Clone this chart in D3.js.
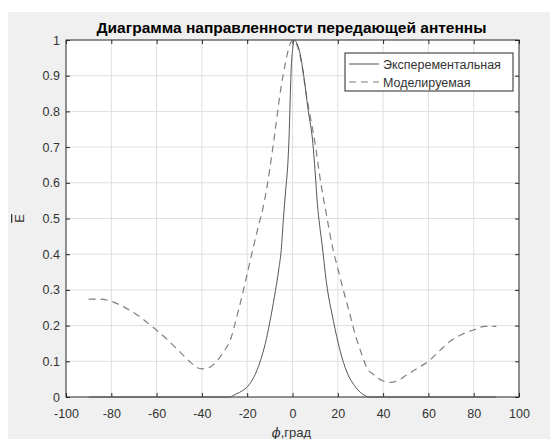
<!DOCTYPE html>
<html>
<head>
<meta charset="utf-8">
<script src="https://cdn.jsdelivr.net/npm/d3@7"></script>
<style>
  body { margin: 0; background: #fff; }
  svg { display: block; font-family: "Liberation Sans", Arial, sans-serif; }
</style>
</head>
<body>
<svg></svg>
<script>
const width = 550;
const height = 439;
const margin = { top: 40, right: 31, bottom: 42, left: 66 };

// angles in degrees, normalized field
const expAngles = [-90, -28, -25, -22, -20, -18, -16, -14, -12, -10, -8, -6, -5, -4, -3, -2, -1.4, -1, -0.5, 0, 0.7, 2, 3.3, 4.8, 7, 9, 10, 11, 12, 13, 15, 18, 21, 24, 27, 29, 31, 34, 90];
const expValues = [0, 0, 0.008, 0.018, 0.028, 0.045, 0.07, 0.105, 0.15, 0.21, 0.28, 0.36, 0.41, 0.5, 0.58, 0.66, 0.75, 0.84, 0.93, 0.97, 1.0, 0.99, 0.963, 0.907, 0.8, 0.71, 0.63, 0.54, 0.48, 0.43, 0.32, 0.215, 0.13, 0.07, 0.035, 0.019, 0.008, 0, 0];

const modelAngles = [-90, -85, -80, -75, -70, -65, -60, -55, -50, -45, -42, -40, -37, -35, -32, -30, -27, -25, -22, -20, -18, -15, -13, -10, -8, -5, -3, -1, 0, 1, 2, 4, 6, 8, 10, 12, 15, 18, 20, 22, 25, 28, 30, 33, 36, 40, 43, 46, 50, 55, 60, 65, 70, 75, 80, 85, 90];
const modelValues = [0.274, 0.274, 0.268, 0.254, 0.236, 0.213, 0.187, 0.159, 0.128, 0.097, 0.082, 0.079, 0.082, 0.09, 0.112, 0.13, 0.168, 0.215, 0.29, 0.345, 0.4, 0.48, 0.53, 0.64, 0.73, 0.87, 0.94, 0.99, 1.0, 0.995, 0.985, 0.935, 0.85, 0.78, 0.71, 0.62, 0.51, 0.41, 0.36, 0.31, 0.24, 0.168, 0.13, 0.08, 0.062, 0.045, 0.041, 0.044, 0.06, 0.08, 0.1, 0.13, 0.158, 0.176, 0.188, 0.198, 0.198];

const xTicks = [-100, -80, -60, -40, -20, 0, 20, 40, 60, 80, 100];
const yTicks = [0, 0.1, 0.2, 0.3, 0.4, 0.5, 0.6, 0.7, 0.8, 0.9, 1];

const svg = d3.select("svg").attr("width", width).attr("height", height);

// figure background
svg.append("rect").attr("x", 8).attr("y", 12).attr("width", width - 8).attr("height", height - 12).attr("fill", "#f0f0f0");

const x = d3.scaleLinear().domain([-100, 100]).range([margin.left, width - margin.right]);
const y = d3.scaleLinear().domain([0, 1]).range([height - margin.bottom, margin.top]);
const x0 = margin.left, x1 = width - margin.right, y0 = height - margin.bottom, y1 = margin.top;

svg.append("rect").attr("x", x0).attr("y", y1).attr("width", x1 - x0).attr("height", y0 - y1).attr("fill", "#fff");

// grid
svg.append("g").selectAll("line").data(xTicks.slice(1, -1)).join("line")
  .attr("x1", d => x(d)).attr("x2", d => x(d)).attr("y1", y0).attr("y2", y1)
  .attr("stroke", "#dfdfdf").attr("stroke-width", 1);
svg.append("g").selectAll("line").data(yTicks.slice(1, -1)).join("line")
  .attr("y1", d => y(d)).attr("y2", d => y(d)).attr("x1", x0).attr("x2", x1)
  .attr("stroke", "#dfdfdf").attr("stroke-width", 1);

// axes (ticks inward, on all four sides)
const tickLen = 4;
const xAxis = d3.axisBottom(x).tickValues(xTicks).tickSize(-tickLen).tickPadding(12).tickFormat(d => String(d));
const yAxis = d3.axisLeft(y).tickValues(yTicks).tickSize(-tickLen).tickPadding(6).tickFormat(d => String(d));

svg.append("g").attr("transform", `translate(0,${y0})`).call(xAxis);
svg.append("g").attr("transform", `translate(${x0},0)`).call(yAxis);
svg.append("g").attr("transform", `translate(0,${y1})`).call(d3.axisTop(x).tickValues(xTicks).tickSize(-tickLen).tickFormat(""));
svg.append("g").attr("transform", `translate(${x1},0)`).call(d3.axisRight(y).tickValues(yTicks).tickSize(-tickLen).tickFormat(""));

svg.selectAll(".domain").remove();
svg.selectAll(".tick line").attr("stroke", "#262626");
svg.selectAll(".tick text").attr("font-size", 12.5).attr("fill", "#333").attr("font-family", "Liberation Sans, Arial, sans-serif");

svg.append("rect").attr("x", x0).attr("y", y1).attr("width", x1 - x0).attr("height", y0 - y1)
  .attr("fill", "none").attr("stroke", "#262626").attr("stroke-width", 1);

// curves
const line = d3.line().x(d => x(d[0])).y(d => y(d[1])).curve(d3.curveMonotoneX);

svg.append("path")
  .datum(modelAngles.map((a, i) => [a, modelValues[i]]))
  .attr("d", line).attr("fill", "none").attr("stroke", "#808080").attr("stroke-width", 1.2)
  .attr("stroke-dasharray", "7,5");

svg.append("path")
  .datum(expAngles.map((a, i) => [a, expValues[i]]))
  .attr("d", line).attr("fill", "none").attr("stroke", "#555").attr("stroke-width", 1);

// legend
const legend = svg.append("g");
legend.append("rect").attr("x", 345).attr("y", 53).attr("width", 168).attr("height", 38)
  .attr("fill", "#fff").attr("stroke", "#262626").attr("stroke-width", 1);
legend.append("line").attr("x1", 349).attr("x2", 379).attr("y1", 64).attr("y2", 64).attr("stroke", "#555");
legend.append("line").attr("x1", 349).attr("x2", 379).attr("y1", 82).attr("y2", 82).attr("stroke", "#808080").attr("stroke-dasharray", "7,5").attr("stroke-width", 1.2);
legend.append("text").attr("x", 383).attr("y", 68.5).attr("font-size", 12.5).attr("fill", "#333").text("Эксперементальная");
legend.append("text").attr("x", 383).attr("y", 86.5).attr("font-size", 12.5).attr("fill", "#333").text("Моделируемая");

// title and labels
svg.append("text").attr("x", (x0 + x1) / 2 - 1).attr("y", 33).attr("text-anchor", "middle")
  .attr("font-size", 15.5).attr("font-weight", "bold").attr("fill", "#000")
  .text("Диаграмма направленности передающей антенны");

const xl = svg.append("text").attr("x", (x0 + x1) / 2 - 1).attr("y", 437).attr("text-anchor", "middle")
  .attr("font-size", 13).attr("fill", "#333");
xl.append("tspan").attr("font-family", "DejaVu Serif").attr("font-style", "italic").text("ϕ");
xl.append("tspan").text(",град");

svg.append("text").attr("transform", `translate(24,${(y0 + y1) / 2}) rotate(-90)`)
  .attr("text-anchor", "middle").attr("font-size", 13).attr("fill", "#333")
  .attr("text-decoration", "overline").text("E");
</script>
</body>
</html>
